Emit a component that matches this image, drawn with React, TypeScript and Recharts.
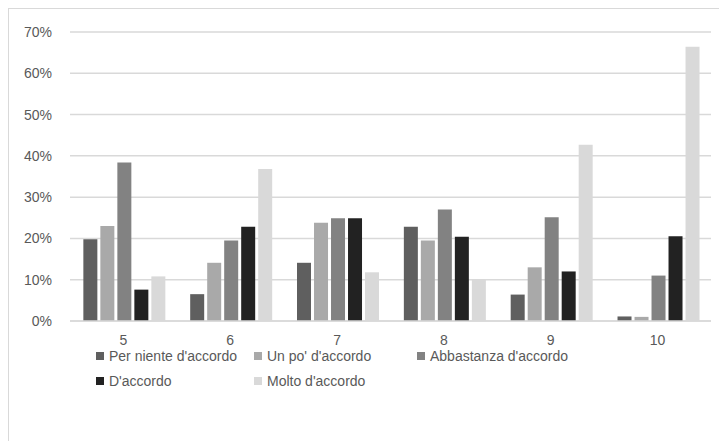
import React from 'react';
import { BarChart, Bar, XAxis, YAxis, CartesianGrid, Legend } from 'recharts';

const categories = ['5', '6', '7', '8', '9', '10'];
const perNiente = [19.8, 6.5, 14.1, 22.8, 6.4, 1.1];
const unPo = [23.0, 14.1, 23.8, 19.5, 13.0, 1.0];
const abbastanza = [38.4, 19.5, 24.9, 27.0, 25.1, 11.0];
const daccordo = [7.6, 22.8, 24.9, 20.4, 12.0, 20.5];
const molto = [10.8, 36.8, 11.8, 10.0, 42.7, 66.4];
const yTicks = [0, 10, 20, 30, 40, 50, 60, 70];

const series = [
  { key: 'perNiente', name: "Per niente d'accordo", color: '#5f5f5f' },
  { key: 'unPo', name: "Un po' d'accordo", color: '#a9a9a9' },
  { key: 'abbastanza', name: "Abbastanza d'accordo", color: '#828282' },
  { key: 'daccordo', name: "D'accordo", color: '#222222' },
  { key: 'molto', name: "Molto d'accordo", color: '#d9d9d9' },
];

const data = categories.map((cat, i) => ({
  cat,
  perNiente: perNiente[i],
  unPo: unPo[i],
  abbastanza: abbastanza[i],
  daccordo: daccordo[i],
  molto: molto[i],
}));

const FONT = '"Liberation Sans", Arial, sans-serif';
const TEXT = '#595959';

const LegendGrid = () => (
  <div
    style={{
      height: 50,
      paddingLeft: 87,
      display: 'grid',
      gridTemplateColumns: '158px 163px auto',
      gridAutoRows: '25px',
      fontFamily: FONT,
      fontSize: 14,
      color: TEXT,
      boxSizing: 'border-box',
    }}
  >
    {series.map((s) => (
      <div key={s.key} style={{ display: 'flex', alignItems: 'center', whiteSpace: 'nowrap' }}>
        <span style={{ width: 8, height: 8, background: s.color, marginRight: 5, display: 'inline-block' }} />
        {s.name}
      </div>
    ))}
  </div>
);

export default function App() {
  return (
    <div style={{ width: 718, height: 432, borderTop: '1px solid #d9d9d9', borderLeft: '1px solid #d9d9d9', background: '#fff' }}>
      <BarChart
        width={718}
        height={432}
        data={data}
        margin={{ top: 23, right: 16, left: 0, bottom: 48 }}
        barCategoryGap="12.5%"
        barGap={3}
      >
        <CartesianGrid vertical={false} stroke="#d9d9d9" strokeWidth={1.5} />
        <XAxis
          dataKey="cat"
          height={22}
          axisLine={{ stroke: '#d9d9d9', strokeWidth: 1.5 }}
          tickLine={false}
          tickMargin={8}
          tick={{ fill: TEXT, fontSize: 14, fontFamily: FONT }}
        />
        <YAxis
          width={61}
          domain={[0, 70]}
          ticks={yTicks}
          axisLine={false}
          tickLine={false}
          tickMargin={12}
          tickFormatter={(v) => `${v}%`}
          tick={{ fill: TEXT, fontSize: 14, fontFamily: FONT }}
        />
        <Legend verticalAlign="bottom" wrapperStyle={{ left: 0, width: 718 }} content={<LegendGrid />} />
        {series.map((s) => (
          <Bar key={s.key} dataKey={s.key} name={s.name} fill={s.color} isAnimationActive={false} />
        ))}
      </BarChart>
    </div>
  );
}
